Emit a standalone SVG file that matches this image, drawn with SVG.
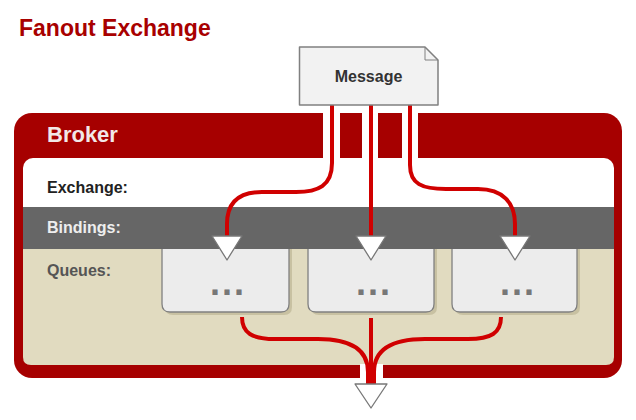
<svg xmlns="http://www.w3.org/2000/svg" width="636" height="420" viewBox="0 0 636 420">
  <style>
    text { font-family: "Liberation Sans", Arial, sans-serif; font-weight: bold; }
    .title { font-size: 23px; fill: #a80000; }
    .broker { font-size: 22px; fill: #f2e8e8; }
    .lbl { font-size: 16px; }
    .dots { font-size: 36px; fill: #777; letter-spacing: 2px; text-anchor: middle; }
    .qbox { fill: #ececec; stroke: #808080; stroke-width: 1.3; }
    .qshadow { fill: #c8c1a2; }
    .wire { fill: none; stroke: #d00000; stroke-width: 4; }
    .gap { fill: #ffffff; }
  </style>
  <defs>
    <marker id="tri" markerUnits="userSpaceOnUse" viewBox="-2 -17 28 34" markerWidth="28" markerHeight="34" refX="0" refY="0" orient="auto">
      <path d="M0,-15 L24,0 L0,15 Z" fill="#ffffff" stroke="#777" stroke-width="1.3" stroke-linejoin="round"/>
    </marker>
    <marker id="tri2" markerUnits="userSpaceOnUse" viewBox="-2 -18 28 36" markerWidth="28" markerHeight="36" refX="0" refY="0" orient="auto">
      <path d="M0,-16 L24,0 L0,16 Z" fill="#ffffff" stroke="#777" stroke-width="1.3" stroke-linejoin="round"/>
    </marker>
  </defs>

  <text class="title" x="19" y="36">Fanout Exchange</text>

  <g id="broker">
    <rect x="14" y="113" width="608" height="265" rx="18" ry="18" fill="#a60000"/>
    <rect x="23" y="158" width="591" height="60" rx="10" ry="10" fill="#ffffff"/>
    <rect x="23" y="207" width="591" height="42" fill="#666666"/>
    <path d="M23,249 H614 V357 Q614,365 606,365 H31 Q23,365 23,357 Z" fill="#e1dbc0"/>
    <rect class="gap" x="323" y="113" width="17" height="46"/>
    <rect class="gap" x="362" y="113" width="16" height="46"/>
    <rect class="gap" x="402" y="113" width="16" height="46"/>
    <rect class="gap" x="360" y="364" width="23" height="15"/>
    <text class="broker" x="47" y="142">Broker</text>
    <text class="lbl" x="47" y="193" fill="#222">Exchange:</text>
    <text class="lbl" x="47" y="233" fill="#eeeeee">Bindings:</text>
    <text class="lbl" x="47" y="276" fill="#555">Queues:</text>
  </g>

  <g id="queue1">
    <path class="qshadow" d="M165,249 H292 V307 Q292,315 284,315 H173 Q165,315 165,307 Z"/>
    <path class="qbox" d="M162,249 V304 Q162,312 170,312 H281 Q289,312 289,304 V249"/>
    <text class="dots" x="228" y="295">...</text>
  </g>
  <g id="queue2">
    <path class="qshadow" d="M311,249 H437 V307 Q437,315 429,315 H319 Q311,315 311,307 Z"/>
    <path class="qbox" d="M308,249 V304 Q308,312 316,312 H426 Q434,312 434,304 V249"/>
    <text class="dots" x="374" y="295">...</text>
  </g>
  <g id="queue3">
    <path class="qshadow" d="M455,249 H580 V307 Q580,315 572,315 H463 Q455,315 455,307 Z"/>
    <path class="qbox" d="M452,249 V304 Q452,312 460,312 H569 Q577,312 577,304 V249"/>
    <text class="dots" x="518" y="295">...</text>
  </g>

  <g id="connectors">
    <path class="wire" d="M332,100 V163 C332,186 318,192 296,192 L262,192 C238,192 227,203 227,224 V236" marker-end="url(#tri)"/>
    <path class="wire" d="M371,100 V236" marker-end="url(#tri)"/>
    <path class="wire" d="M410,100 V165 C410,184 422,189 446,189 L478,189 C503,189 515,203 515,224 V236" marker-end="url(#tri)"/>
    <path class="wire" d="M242,317 C242,333 252,339 275,339 L318,339 C352,339 368,350 368,372 V384"/>
    <path class="wire" d="M501,317 C501,333 491,339 468,339 L425,339 C391,339 374,350 374,372 V384"/>
    <path class="wire" d="M371,318 V384" marker-end="url(#tri2)"/>
  </g>

  <g id="message">
    <path d="M299.5,47 H425 L438,60 V105 H299.5 Z" fill="#f2f2f2" stroke="#808080" stroke-width="1.5" stroke-linejoin="round"/>
    <path d="M425,47 V60 H438" fill="none" stroke="#808080" stroke-width="1"/>
    <text class="lbl" x="368.5" y="82" fill="#333" text-anchor="middle">Message</text>
  </g>
</svg>
